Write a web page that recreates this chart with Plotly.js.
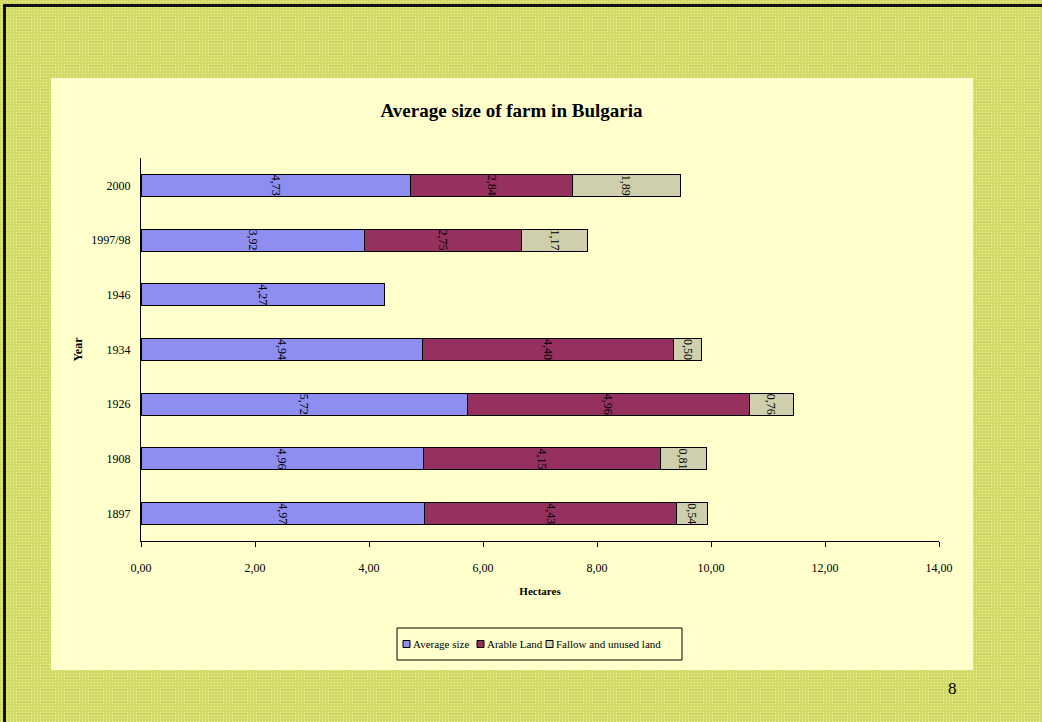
<!DOCTYPE html>
<html>
<head>
<meta charset="utf-8">
<script src="https://cdn.plot.ly/plotly-3.0.1.min.js"></script>
<style>
  html, body { margin:0; padding:0; width:1042px; height:722px; overflow:hidden; }
  body {
    background-color:#d3d966;
    background-image: radial-gradient(circle, #f1f3a6 0.8px, transparent 1px);
    background-size: 3px 3px;
  }
  #frame { position:absolute; left:3px; top:4px; width:1042px; height:722px;
    border-left:3px solid #111; border-top:3px solid #111; pointer-events:none; }
  #chart { position:absolute; left:0; top:0; width:1042px; height:722px; }
</style>
</head>
<body>
<div id="chart"></div>
<div id="frame"></div>
<script>
const years = ['1897', '1908', '1926', '1934', '1946', '1997/98', '2000'];
const averageSize = [4.97, 4.96, 5.72, 4.94, 4.27, 3.92, 4.73];
const arableLand = [4.43, 4.15, 4.96, 4.40, null, 2.75, 2.84];
const fallowLand = [0.54, 0.81, 0.76, 0.50, null, 1.17, 1.89];
const seriesNames = ['Average size', 'Arable Land', 'Fallow and unused land'];
const seriesColors = ['#8e8ef0', '#96315f', '#cfcfad'];
const xTicks = [0, 2, 4, 6, 8, 10, 12, 14];

const serif = 'Liberation Serif, Times New Roman, serif';
const fmt = v => (v === null ? '' : v.toFixed(2).replace('.', ','));

function barTrace(i, vals) {
  return {
    type: 'bar', orientation: 'h', name: seriesNames[i],
    y: years, x: vals,
    text: vals.map(fmt),
    textposition: 'inside', insidetextanchor: 'middle',
    constraintext: 'none', textangle: 90,
    textfont: { family: serif, size: 12, color: '#000' },
    marker: { color: seriesColors[i], line: { color: '#000', width: 1 } },
    hoverinfo: 'x+y+name', showlegend: false
  };
}

const data = [
  barTrace(0, averageSize),
  barTrace(1, arableLand),
  barTrace(2, fallowLand)
];

const W = 1042, H = 722, L = 141, R = 939, T = 158, B = 541;
const px = x => (x - L) / (R - L);
const py = y => (B - y) / (B - T);

// custom compact legend (Excel style)
const legendBox = { x0: 397, x1: 682, y0: 628, y1: 660 };
const legendSymX = [403, 477, 546];
const legendTextX = [412, 486, 555];
const legendY = 644;

const shapes = [{
  type: 'rect', xref: 'paper', yref: 'paper', layer: 'below',
  x0: px(51), x1: px(973), y0: py(670), y1: py(78),
  fillcolor: '#ffffcc', line: { width: 0 }
}, {
  type: 'rect', xref: 'paper', yref: 'paper', layer: 'above',
  x0: px(legendBox.x0), x1: px(legendBox.x1), y0: py(legendBox.y1), y1: py(legendBox.y0),
  fillcolor: '#ffffcc', line: { color: '#000', width: 1 }
}];
const annotations = [{
  text: '8', xref: 'paper', yref: 'paper', x: px(952), y: py(688),
  xanchor: 'center', yanchor: 'middle', showarrow: false,
  font: { family: serif, size: 17, color: '#000' }
}];
seriesNames.forEach((n, i) => {
  shapes.push({
    type: 'rect', xref: 'paper', yref: 'paper', layer: 'above',
    x0: px(legendSymX[i]), x1: px(legendSymX[i] + 7),
    y0: py(legendY + 3.5), y1: py(legendY - 3.5),
    fillcolor: seriesColors[i], line: { color: '#000', width: 1 }
  });
  annotations.push({
    text: n, xref: 'paper', yref: 'paper', x: px(legendTextX[i] - 1), y: py(legendY),
    xanchor: 'left', yanchor: 'middle', showarrow: false,
    font: { family: serif, size: 11, color: '#000' }
  });
});

const layout = {
  width: W, height: H,
  margin: { l: L, r: W - R, t: T, b: H - B, pad: 0 },
  paper_bgcolor: 'rgba(0,0,0,0)',
  plot_bgcolor: 'rgba(0,0,0,0)',
  separators: ',.',
  barmode: 'stack', bargap: 0.6,
  font: { family: serif, size: 12, color: '#000' },
  title: {
    text: '<b>Average size of farm in Bulgaria</b>',
    font: { family: serif, size: 19, color: '#000' },
    x: 511.5 / W, xref: 'container', xanchor: 'center',
    y: 1 - 110 / H, yref: 'container', yanchor: 'middle'
  },
  xaxis: {
    range: [0, 14], tickvals: xTicks, tickformat: '.2f',
    showline: true, linecolor: '#000', linewidth: 1,
    ticks: 'outside', ticklen: 5, tickcolor: '#000',
    showgrid: false, zeroline: false,
    ticklabelstandoff: 11,
    tickfont: { family: serif, size: 12 },
    title: { text: '<b>Hectares</b>', font: { family: serif, size: 11 }, standoff: 12 }
  },
  yaxis: {
    type: 'category', categoryorder: 'array', categoryarray: years,
    showline: true, linecolor: '#000', linewidth: 1,
    ticks: '', showgrid: false, zeroline: false,
    ticklabelstandoff: 7,
    tickfont: { family: serif, size: 12 },
    title: { text: '<b>Year</b>', font: { family: serif, size: 12 }, standoff: 6 }
  },
  showlegend: false,
  shapes: shapes,
  annotations: annotations
};

Plotly.newPlot('chart', data, layout, { displayModeBar: false, staticPlot: true });
</script>
</body>
</html>
